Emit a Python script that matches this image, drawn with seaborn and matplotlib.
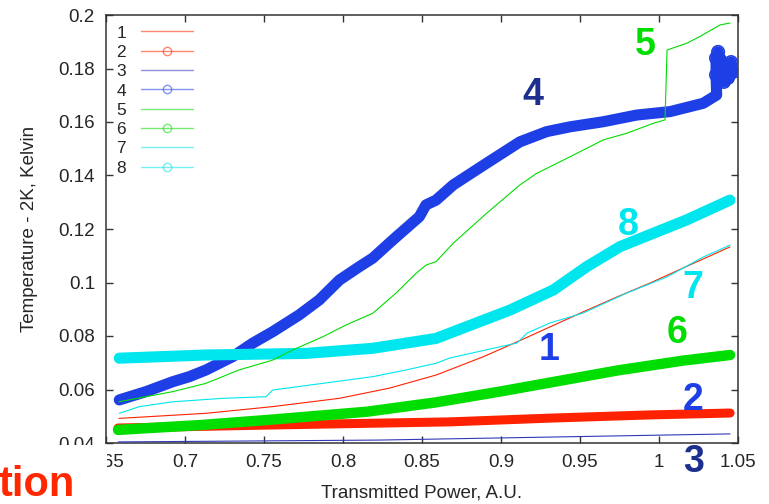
import matplotlib
matplotlib.use("Agg")
import matplotlib.pyplot as plt
from matplotlib.lines import Line2D
from matplotlib.patches import Rectangle
from matplotlib.ticker import FormatStrFormatter
import pandas as pd
import seaborn as sns

# ---- measured runs: transmitted power (A.U.) vs temperature above 2 K (K) ----
p1 = [0.6582, 0.7133, 0.7555, 0.7977, 0.8293, 0.8589, 0.8886, 0.9101, 0.9310, 0.9519,
      0.9734, 0.9943, 1.0152, 1.0449]
t1 = [0.0492, 0.0511, 0.0536, 0.0567, 0.0605, 0.0654, 0.0722, 0.0778, 0.0834, 0.0890,
      0.0946, 0.0998, 0.1054, 0.1133]

p2 = [0.6576, 0.7519, 0.8678, 0.9311, 0.9943, 1.0450]
t2 = [0.0456, 0.0467, 0.0479, 0.0493, 0.0505, 0.0512]

p3 = [0.6576, 0.8234, 1.0450]
t3 = [0.0404, 0.0411, 0.0434]

p4 = [0.6584, 0.6753, 0.6922, 0.7027, 0.7133, 0.7302, 0.7428, 0.7555, 0.7723, 0.7850,
      0.7977, 0.8103, 0.8188, 0.8315, 0.8483, 0.8525, 0.8589, 0.8698, 0.8909, 0.9120,
      0.9289, 0.9437, 0.9647, 0.9859, 1.0071, 1.0280, 1.0365]
t4 = [0.0561, 0.0592, 0.0629, 0.0648, 0.0673, 0.0723, 0.0773, 0.0816, 0.0879, 0.0935,
      0.1009, 0.1059, 0.1091, 0.1159, 0.1246, 0.1290, 0.1308, 0.1365, 0.1446, 0.1526,
      0.1564, 0.1582, 0.1601, 0.1626, 0.1639, 0.1670, 0.1701]
# run 4: scatter of readings at the end of the sweep
p4_end = [1.0361, 1.0361, 1.0374, 1.0386, 1.0399, 1.0424, 1.0450, 1.0437, 1.0411,
          1.0469, 1.0456]
t4_end = [0.1776, 0.1839, 0.1862, 0.1832, 0.1787, 0.1813, 0.1794, 0.1765, 0.1750,
          0.1787, 0.1824]

p5 = [0.6582, 0.6922, 0.7133, 0.7342, 0.7555, 0.7682, 0.7872, 0.8019, 0.8188, 0.8335,
      0.8462, 0.8525, 0.8589, 0.8698, 0.8909, 0.9120, 0.9226, 0.9437, 0.9647, 0.9796,
      0.9964, 1.0038, 1.0051, 1.0178, 1.0260, 1.0387, 1.0450]
t5 = [0.0554, 0.0592, 0.0623, 0.0673, 0.0710, 0.0748, 0.0797, 0.0841, 0.0885, 0.0960,
      0.1034, 0.1065, 0.1078, 0.1147, 0.1259, 0.1365, 0.1408, 0.1470, 0.1533, 0.1558,
      0.1595, 0.1608, 0.1869, 0.1895, 0.1920, 0.1963, 0.1970]

p6 = [0.6576, 0.7095, 0.7519, 0.8152, 0.8589, 0.9000, 0.9311, 0.9735, 1.0152, 1.0450]
t6 = [0.0449, 0.0467, 0.0486, 0.0517, 0.0552, 0.0593, 0.0626, 0.0671, 0.0708, 0.0729]

p7 = [0.6584, 0.6711, 0.6922, 0.7239, 0.7513, 0.7555, 0.7872, 0.8188, 0.8399, 0.8589,
      0.8678, 0.9102, 0.9165, 0.9311, 0.9520, 0.9798, 1.0051, 1.0279, 1.0450]
t7 = [0.0511, 0.0536, 0.0554, 0.0567, 0.0573, 0.0598, 0.0623, 0.0648, 0.0673, 0.0698,
      0.0718, 0.0774, 0.0811, 0.0849, 0.0886, 0.0961, 0.1021, 0.1095, 0.1140]

p8 = [0.6584, 0.7133, 0.7766, 0.8188, 0.8589, 0.9057, 0.9331, 0.9542, 0.9753, 0.9964,
      1.0175, 1.0449]
t8 = [0.0717, 0.0729, 0.0735, 0.0754, 0.0791, 0.0897, 0.0972, 0.1059, 0.1134, 0.1184,
      0.1234, 0.1308]

run_labels = ["1", "2", "3", "4", "5", "6", "7", "8"]
x_ticks = [0.65, 0.7, 0.75, 0.8, 0.85, 0.9, 0.95, 1.0, 1.05]
y_ticks = [0.04, 0.06, 0.08, 0.1, 0.12, 0.14, 0.16, 0.18, 0.2]

RED = "#ff2200"
BLUE = "#1f3fe6"
NAVY = "#3038b8"
GREEN = "#00dd00"
CYAN = "#00e6ee"

sns.set_style("ticks")
plt.rcParams["font.family"] = ["Liberation Sans", "DejaVu Sans"]

fig = plt.figure(figsize=(7.69, 5.04), dpi=100)
ax = fig.add_axes([106 / 769, 61 / 504, 632 / 769, 428 / 504])

def draw(p, t, color, lw, z):
    df = pd.DataFrame({"power": p, "temp": t})
    sns.lineplot(data=df, x="power", y="temp", ax=ax, color=color, linewidth=lw,
                 sort=False, estimator=None, solid_capstyle="round",
                 solid_joinstyle="round", zorder=z)

# thick marker-traced runs first, thin runs on top
draw(p2, t2, RED, 6.5, 2)
draw(p6, t6, GREEN, 7.5, 3)
draw(p4 + p4_end, t4 + t4_end, BLUE, 8.0, 4)
sns.scatterplot(x=p4_end, y=t4_end, ax=ax, marker="o", s=80, facecolor="none",
                edgecolor=BLUE, linewidth=1.2, zorder=4)
draw(p8, t8, CYAN, 8.0, 5)
draw(p1, t1, RED, 0.8, 6)
draw(p3, t3, NAVY, 0.8, 6)
draw(p5, t5, GREEN, 0.8, 6)
draw(p7, t7, CYAN, 0.8, 6)

ax.set_xlim(0.65, 1.05)
ax.set_ylim(0.04, 0.2)
ax.set_xticks(x_ticks)
ax.set_yticks(y_ticks)
ax.xaxis.set_major_formatter(FormatStrFormatter("%g"))
ax.yaxis.set_major_formatter(FormatStrFormatter("%g"))
ax.tick_params(direction="in", length=5, width=1.0, color="#333333",
               labelsize=13.5, top=True, right=True, pad=8)
for s in ax.spines.values():
    s.set_visible(True)
    s.set_linewidth(1.1)
    s.set_color("#333333")

ax.set_xlabel("Transmitted Power, A.U.", fontsize=13.5, labelpad=9.5)
ax.set_ylabel("Temperature - 2K, Kelvin", fontsize=13.5, labelpad=14.5)

# legend: label followed by line sample, open circles on marker-traced runs
styles = [(RED, None), (RED, "o"), (NAVY, None), (BLUE, "o"),
          (GREEN, None), (GREEN, "o"), (CYAN, None), (CYAN, "o")]
handles = [Line2D([], [], color=c, lw=1.0, alpha=0.55, marker=m, markersize=6,
                  markerfacecolor="none", markeredgewidth=1.0) for c, m in styles]
ax.legend(handles, run_labels, loc="upper left", frameon=False, markerfirst=False,
          fontsize=12.5, handlelength=3.0, handletextpad=0.85, labelspacing=0.24,
          borderaxespad=0.3, borderpad=0.3)

# run numbers written beside each curve
tags = [("5", 0.9912, 0.1888, GREEN), ("4", 0.9203, 0.1701, "#1c2f8f"),
        ("8", 0.9804, 0.1215, CYAN), ("7", 1.0216, 0.0979, CYAN),
        ("6", 1.0114, 0.0811, GREEN), ("1", 0.9304, 0.0748, BLUE),
        ("2", 1.0216, 0.0561, BLUE), ("3", 1.0216, 0.0329, "#1c2f8f")]
for txt, x, y, c in tags:
    ax.text(x, y, txt, color=c, fontsize=27, fontweight="bold",
            ha="center", va="center", clip_on=False, zorder=10)

# slide overlay in the lower-left corner
fig.add_artist(Rectangle((0, 0), 107 / 769, 59 / 504, transform=fig.transFigure,
                         facecolor="white", edgecolor="none", zorder=20))
fig.text(-0.002, 8 / 504, "tion", color="#ff2800", fontsize=30, fontweight="bold",
         ha="left", va="baseline", zorder=21)

fig.savefig("out.png", dpi=100)
